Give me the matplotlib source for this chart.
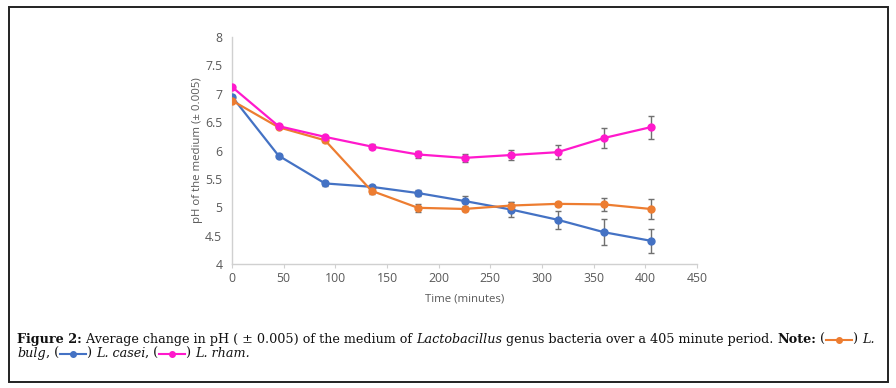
import matplotlib
matplotlib.use("Agg")
import matplotlib.pyplot as plt
from matplotlib.lines import Line2D
from matplotlib.patches import Rectangle

# ---- data ----
time_min = [0, 45, 90, 135, 180, 225, 270, 315, 360, 405]
bulg = [6.88, 6.41, 6.18, 5.29, 4.99, 4.97, 5.03, 5.06, 5.05, 4.97]
bulg_err = [0.02, 0.02, 0.03, 0.06, 0.07, 0.03, 0.06, 0.04, 0.11, 0.18]
casei = [6.95, 5.91, 5.42, 5.36, 5.25, 5.11, 4.96, 4.78, 4.56, 4.41]
casei_err = [0.02, 0.03, 0.05, 0.03, 0.05, 0.08, 0.14, 0.16, 0.23, 0.21]
rham = [7.12, 6.43, 6.24, 6.07, 5.93, 5.87, 5.92, 5.97, 6.22, 6.41]
rham_err = [0.02, 0.02, 0.02, 0.04, 0.06, 0.07, 0.09, 0.12, 0.18, 0.2]
x_ticks = [0, 50, 100, 150, 200, 250, 300, 350, 400, 450]
y_ticks = [4, 4.5, 5, 5.5, 6, 6.5, 7, 7.5, 8]
y_tick_labels = ["4", "4.5", "5", "5.5", "6", "6.5", "7", "7.5", "8"]

C_BULG = "#ED7D31"
C_CASEI = "#4472C4"
C_RHAM = "#FF19CC"
ERR_C = "#707070"

W, H = 896, 388
fig = plt.figure(figsize=(W / 100, H / 100), dpi=100)
fig.patch.set_facecolor("white")

ax = fig.add_axes([232 / W, 1 - 264 / H, (697 - 232) / W, (264 - 37) / H])
for y, e, c in [(casei, casei_err, C_CASEI), (bulg, bulg_err, C_BULG), (rham, rham_err, C_RHAM)]:
    ax.errorbar(time_min, y, yerr=e, color=c, lw=1.6, marker="o", ms=5,
                ecolor=ERR_C, elinewidth=1.0, capsize=2.5, capthick=1.0, zorder=3)

ax.set_xlim(0, 450)
ax.set_ylim(4, 8)
ax.set_xticks(x_ticks)
ax.set_yticks(y_ticks)
ax.set_yticklabels(y_tick_labels)
for s in ["top", "right"]:
    ax.spines[s].set_visible(False)
for s in ["left", "bottom"]:
    ax.spines[s].set_color("#D0D0D0")
    ax.spines[s].set_linewidth(1.0)
ax.tick_params(axis="y", length=0, pad=7, labelsize=8.8, labelcolor="#595959")
ax.tick_params(axis="x", length=3, color="#D0D0D0", pad=3, labelsize=8.8, labelcolor="#595959")
for lab in ax.get_xticklabels() + ax.get_yticklabels():
    lab.set_family("Open Sans")
ax.set_xlabel("Time (minutes)", family="Open Sans", fontsize=8.2, color="#595959", labelpad=6)
ax.set_ylabel("pH of the medium (\u00b1 0.005)", family="Open Sans", fontsize=8.2, color="#595959")
ax.yaxis.set_label_coords(-0.063, 0.5)

# outer border
fig.add_artist(Rectangle((9 / W, 1 - 382 / H), (888 - 9) / W, (382 - 7) / H,
                         transform=fig.transFigure, fill=False, ec="#222222", lw=1.4))

# ---- caption with mixed styles ----
renderer = fig.canvas.get_renderer()
FS = 9.15
FAM = "DejaVu Serif"


def put(x, y, s, weight="normal", style="normal"):
    t = fig.text(x / W, 1 - y / H, s, fontsize=FS, family=FAM, weight=weight,
                 style=style, va="baseline", ha="left", color="#111111")
    bb = t.get_window_extent(renderer)
    return x + bb.width


def marker(x, y, color):
    w = 26
    yy = 1 - (y - 3) / H
    fig.add_artist(Line2D([x / W, (x + w) / W], [yy, yy], color=color, lw=1.5,
                          transform=fig.transFigure))
    fig.add_artist(Line2D([(x + w / 2) / W], [yy], color=color, marker="o", ms=4,
                          transform=fig.transFigure))
    return x + w


y1, y2 = 343, 357
x = 17
x = put(x, y1, "Figure 2:", weight="bold")
x = put(x, y1, " Average change in pH ( \u00b1 0.005) of the medium of ")
x = put(x, y1, "Lactobacillus", style="italic")
x = put(x, y1, " genus bacteria over a 405 minute period. ")
x = put(x, y1, "Note:", weight="bold")
x = put(x, y1, " (")
x = marker(x + 1, y1, C_BULG)
x = put(x + 1, y1, ") ")
x = put(x, y1, "L.", style="italic")

x = 17
x = put(x, y2, "bulg", style="italic")
x = put(x, y2, ", (")
x = marker(x + 1, y2, C_CASEI)
x = put(x + 1, y2, ") ")
x = put(x, y2, "L. casei", style="italic")
x = put(x, y2, ", (")
x = marker(x + 1, y2, C_RHAM)
x = put(x + 1, y2, ") ")
x = put(x, y2, "L. rham.", style="italic")

fig.savefig("out.png", dpi=100, facecolor="white")
